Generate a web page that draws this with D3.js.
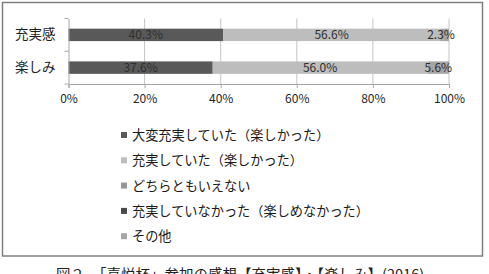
<!DOCTYPE html>
<html>
<head>
<meta charset="utf-8">
<script src="https://cdn.jsdelivr.net/npm/d3@7"></script>
<style>
  body { margin: 0; background: #fff; }
  text { font-family: "Noto Sans CJK JP", "Noto Sans", sans-serif; }
</style>
</head>
<body>
<div id="chart"></div>
<script>
// categories (top to bottom)
const categories = ["充実感", "楽しみ"];
// series, in stacking order
const seriesNames = [
  "大変充実していた（楽しかった）",
  "充実していた（楽しかった）",
  "どちらともいえない",
  "充実していなかった（楽しめなかった）",
  "その他"
];
const seriesColors = ["#595959", "#bdbdbd", "#979797", "#4a4a4a", "#a6a6a6"];
// values per category, same order as seriesNames
const values充実感 = [40.3, 56.6, 0, 0, 2.3];
const values楽しみ = [37.6, 56.0, 0, 0, 5.6];
const xTicks = [0, 20, 40, 60, 80, 100];
const caption = "図２　「喜悦杯」参加の感想【充実感】・【楽しみ】(2016)";

const width = 489, height = 274;
const rows = [values充実感, values楽しみ];

const svg = d3.select("#chart").append("svg")
  .attr("width", width)
  .attr("height", height);

// outer frame
svg.append("rect")
  .attr("x", 2.5).attr("y", 2.5)
  .attr("width", 480).attr("height", 253.5)
  .attr("fill", "none")
  .attr("stroke", "#7f7f7f")
  .attr("stroke-width", 1.5);

const x = d3.scaleLinear().domain([0, 100]).range([68.5, 449]);
const y = d3.scaleBand().domain(categories).range([18.5, 84])
  .paddingInner(0.62).paddingOuter(0.31);

// gridlines
svg.append("g").selectAll("line")
  .data(xTicks.slice(1))
  .enter().append("line")
  .attr("x1", d => x(d)).attr("x2", d => x(d))
  .attr("y1", 18.5).attr("y2", 84)
  .attr("stroke", "#c4c4c4");

// stacked bars (100% stacked)
const stackData = categories.map((c, i) => {
  const total = d3.sum(rows[i]);
  let acc = 0;
  return rows[i].map((v, j) => {
    const seg = { cat: c, j: j, v: v, x0: acc / total * 100, x1: (acc + v) / total * 100 };
    acc += v;
    return seg;
  });
}).flat();

const segs = svg.append("g").selectAll("g")
  .data(stackData.filter(d => d.v > 0))
  .enter().append("g");

segs.append("rect")
  .attr("x", d => x(d.x0))
  .attr("y", d => y(d.cat))
  .attr("width", d => x(d.x1) - x(d.x0))
  .attr("height", y.bandwidth())
  .attr("fill", d => seriesColors[d.j]);

segs.append("text")
  .attr("x", d => d.v < 4 ? x(d.x1) - 8 : x((d.x0 + d.x1) / 2))
  .attr("y", d => y(d.cat) + y.bandwidth() / 2)
  .attr("dy", "0.36em")
  .attr("text-anchor", "middle")
  .attr("font-size", 12)
  .attr("fill", "#2e2e2e")
  .text(d => d.v.toFixed(1) + "%");

// x axis
const xAxis = svg.append("g")
  .attr("transform", "translate(0,84)")
  .call(d3.axisBottom(x).tickValues(xTicks).tickFormat(d => d + "%").tickSize(4).tickPadding(6));
xAxis.select(".domain").attr("stroke", "#a6a6a6");
xAxis.selectAll(".tick line").attr("stroke", "#a6a6a6");
xAxis.selectAll("text").attr("font-size", 12).attr("fill", "#262626")
  .attr("font-family", "'Noto Sans CJK JP', sans-serif");

// y axis
const yAxis = svg.append("g")
  .attr("transform", "translate(68.5,0)")
  .call(d3.axisLeft(y).tickSize(0).tickPadding(13));
yAxis.select(".domain").attr("stroke", "#a6a6a6");
yAxis.selectAll("text").attr("font-size", 13.5).attr("fill", "#1e1e1e")
  .attr("font-family", "'Noto Sans CJK JP', sans-serif");
// category separators
const step = y.step();
yAxis.selectAll(".sep")
  .data(d3.range(categories.length + 1))
  .enter().append("line")
  .attr("x1", -4).attr("x2", 0)
  .attr("y1", i => 18.5 + i * step).attr("y2", i => 18.5 + i * step)
  .attr("stroke", "#a6a6a6");

// legend
const legend = svg.append("g").selectAll("g")
  .data(seriesNames)
  .enter().append("g")
  .attr("transform", (d, i) => `translate(121,${135 + i * 25.3})`);

legend.append("rect")
  .attr("x", 0).attr("y", -3)
  .attr("width", 6).attr("height", 6)
  .attr("fill", (d, i) => seriesColors[i]);

legend.append("text")
  .attr("x", 11)
  .attr("dy", "0.38em")
  .attr("font-size", 13.2)
  .attr("fill", "#1a1a1a")
  .text(d => d);

// caption (cut off at the bottom edge, as in the source image)
svg.append("text")
  .attr("x", 240)
  .attr("y", 279.5)
  .attr("text-anchor", "middle")
  .attr("font-size", 14.5)
  .attr("fill", "#222")
  .text(caption);
</script>
</body>
</html>
